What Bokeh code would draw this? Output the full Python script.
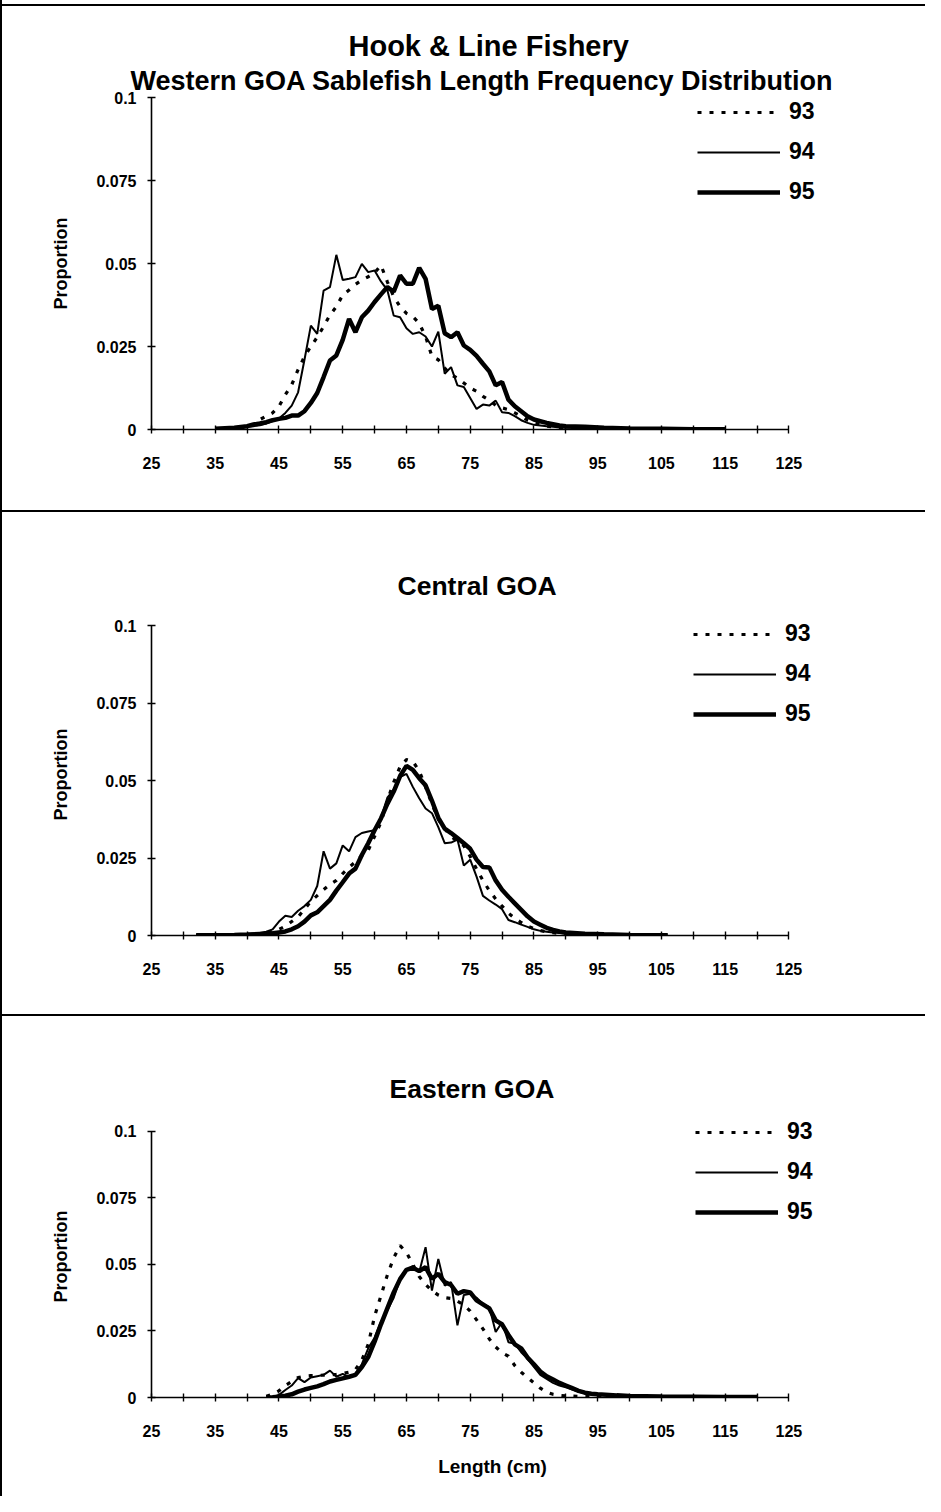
from bokeh.plotting import figure
from bokeh.models import FixedTicker, Legend, LegendItem, Title, Div, Range1d
from bokeh.layouts import column, row
from bokeh.embed import file_html
from bokeh.resources import INLINE

# ---------------- data ----------------
main_title = "Hook & Line Fishery"
panel_titles = ["Western GOA Sablefish Length Frequency Distribution", "Central GOA", "Eastern GOA"]
years = ["93", "94", "95"]
x_label = "Length (cm)"
y_label = "Proportion"
x_ticks = [25, 35, 45, 55, 65, 75, 85, 95, 105, 115, 125]
x_minor_ticks = [30, 40, 50, 60, 70, 80, 90, 100, 110, 120]
y_ticks = [0, 0.025, 0.05, 0.075, 0.1]
y_tick_labels = ["0", "0.025", "0.05", "0.075", "0.1"]

west_len = [35, 38, 40, 41, 42, 43, 44, 45, 46, 47, 48, 49, 50, 51, 52, 53, 54, 55, 56, 57,
            58, 59, 60, 61, 62, 63, 64, 65, 66, 67, 68, 69, 70, 71, 72, 73, 74, 75, 76, 77,
            78, 79, 80, 81, 82, 83, 84, 85, 86, 87, 88, 89, 90, 93, 96, 100, 105, 110, 115]
west_93 = [0.0, 0.0003,
           0.0008, 0.0015, 0.003, 0.004, 0.005, 0.007, 0.0105, 0.0135, 0.018, 0.022,
           0.025, 0.0278, 0.031, 0.0345, 0.037, 0.0405, 0.042, 0.0437, 0.045, 0.046,
           0.0472, 0.0495, 0.0445, 0.040, 0.037, 0.035, 0.034, 0.032, 0.028, 0.022,
           0.021, 0.0185, 0.0165, 0.0155, 0.014, 0.0125, 0.0115, 0.01, 0.0088, 0.0073,
           0.0065, 0.006, 0.005, 0.004, 0.0028, 0.002, 0.0015, 0.001, 0.0008, 0.0006,
           0.0005,
           0.0003, 0.0002, 0.0001, 0.0, 0.0, 0.0]
west_94 = [0.0, 0.0003,
           0.0008, 0.001, 0.0013, 0.0018, 0.0025, 0.0033, 0.005, 0.0072, 0.0112, 0.021,
           0.0313, 0.0288, 0.0418, 0.0429, 0.0526, 0.045, 0.0454, 0.0459, 0.0499, 0.0474,
           0.0479, 0.0446, 0.042, 0.0343, 0.0338, 0.0305, 0.0288, 0.0293, 0.028, 0.025,
           0.0295, 0.0168, 0.0188, 0.0133, 0.0128, 0.0095, 0.0062, 0.0075, 0.0072, 0.0087,
           0.0052, 0.005, 0.004, 0.0028, 0.002, 0.0014, 0.0012, 0.001, 0.0008, 0.0006,
           0.0005,
           0.0004, 0.0002, 0.0001, 0.0001, 0.0, 0.0]
west_95 = [0.0002, 0.0005,
           0.001, 0.0015, 0.0018, 0.0022, 0.0028, 0.0032, 0.0035, 0.0042, 0.0042, 0.0055,
           0.008, 0.011, 0.0158, 0.0208, 0.0223, 0.027, 0.0333, 0.0293, 0.0338, 0.0358,
           0.0384, 0.0407, 0.0429, 0.0415, 0.0464, 0.0439, 0.0439, 0.0487, 0.0454, 0.0363,
           0.0373, 0.029, 0.0278, 0.0293, 0.0253, 0.024, 0.0222, 0.0198, 0.0175, 0.0133,
           0.0143, 0.009, 0.007, 0.0055, 0.004, 0.003, 0.0025, 0.002, 0.0016, 0.0012,
           0.001,
           0.0008, 0.0005, 0.0003, 0.0002, 0.0001, 0.0001]

central_len = [32, 35, 38, 40, 42, 43, 44, 45, 46, 47, 48, 49, 50, 51, 52, 53, 54, 55, 56, 57,
               58, 59, 60, 61, 62, 63, 64, 65, 66, 67, 68, 69, 70, 71, 72, 73, 74, 75, 76, 77,
               78, 79, 80, 81, 82, 83, 84, 85, 86, 87, 88, 89, 90, 93, 96, 100, 103, 106]
central_93 = [0.0, 0.0001, 0.0002, 0.0003,
              0.0005, 0.0008, 0.0012, 0.002, 0.003, 0.0045, 0.006, 0.0085,
              0.011, 0.0129, 0.0148, 0.0165, 0.0178, 0.02, 0.022, 0.0238, 0.0258, 0.0275,
              0.032, 0.0366, 0.0435, 0.0495, 0.0545, 0.0568, 0.0562, 0.0532, 0.048, 0.0425,
              0.0375, 0.0345, 0.032, 0.0305, 0.029, 0.0255, 0.0215, 0.0178, 0.0145, 0.0118,
              0.0095, 0.0072, 0.0055, 0.0042, 0.003, 0.0022, 0.0016, 0.0012, 0.0009, 0.0007,
              0.0005,
              0.0003, 0.0002, 0.0001, 0.0, 0.0]
central_94 = [0.0, 0.0001, 0.0002, 0.0004,
              0.0008, 0.0012, 0.002, 0.0045, 0.0064, 0.006, 0.008, 0.0095,
              0.0115, 0.016, 0.0272, 0.0216, 0.0233, 0.0291, 0.0272, 0.0318, 0.0331, 0.0336,
              0.034, 0.038, 0.0445, 0.047, 0.0512, 0.0522, 0.048, 0.0443, 0.041, 0.0395,
              0.035, 0.0298, 0.03, 0.031, 0.0226, 0.0245, 0.019, 0.0128, 0.0113, 0.01,
              0.0085, 0.005, 0.0043, 0.0035, 0.0028, 0.002, 0.0015, 0.0012, 0.001, 0.0008,
              0.0006,
              0.0004, 0.0002, 0.0001, 0.0001, 0.0]
central_95 = [0.0001, 0.0001, 0.0002, 0.0003,
              0.0005, 0.0006, 0.0007, 0.001, 0.0013, 0.002, 0.003, 0.0045,
              0.0065, 0.0075, 0.0095, 0.0115, 0.0145, 0.0172, 0.02, 0.0216, 0.026, 0.0298,
              0.034, 0.0378, 0.0425, 0.0465, 0.0515, 0.0548, 0.0535, 0.0508, 0.0485, 0.0435,
              0.038, 0.0345, 0.0331, 0.0315, 0.0298, 0.028, 0.0245, 0.0221, 0.022, 0.0178,
              0.0148, 0.0125, 0.0104, 0.0083, 0.0062, 0.0045, 0.0035, 0.0025, 0.0018, 0.0013,
              0.001,
              0.0006, 0.0004, 0.0002, 0.0001, 0.0001]

east_len = [43, 44, 45, 46, 47, 48, 49, 50, 51, 52, 53, 54, 55, 56, 57, 58, 59, 60, 61, 62,
            63, 64, 65, 66, 67, 68, 69, 70, 71, 72, 73, 74, 75, 76, 77, 78, 79, 80, 81, 82,
            83, 84, 85, 86, 87, 88, 89, 90, 91, 92, 93, 94, 95, 98, 100, 105, 110, 115, 120]
east_93 = [0.0005, 0.0012, 0.0025, 0.0045, 0.006, 0.0075, 0.008,
           0.0082, 0.0083, 0.0084, 0.0085, 0.0087, 0.009, 0.0095, 0.0105, 0.014, 0.02,
           0.0305, 0.0383, 0.046, 0.0525, 0.0571, 0.0545, 0.05, 0.0455, 0.0425, 0.0402,
           0.0385, 0.0375, 0.0372, 0.0362, 0.0348, 0.0325, 0.0292, 0.0258, 0.022, 0.019,
           0.0168, 0.0155, 0.012, 0.0095, 0.0075, 0.0055, 0.0035, 0.002, 0.0012, 0.0008,
           0.0006, 0.0005, 0.0004, 0.0004, 0.0003, 0.0003,
           0.0002, 0.0002, 0.0001, 0.0001, 0.0, 0.0]
east_94 = [0.0, 0.0002, 0.001, 0.0028, 0.0045, 0.0073, 0.0058,
           0.0075, 0.008, 0.0085, 0.0101, 0.0078, 0.0089, 0.0076, 0.0089, 0.0125, 0.0185,
           0.0225, 0.0285, 0.0328, 0.0375, 0.0445, 0.048, 0.0494, 0.0471, 0.0565, 0.0402,
           0.0521, 0.0421, 0.0434, 0.0271, 0.0385, 0.039, 0.0375, 0.0352, 0.034, 0.0246,
           0.0283, 0.0208, 0.0202, 0.017, 0.0145, 0.0115, 0.0085, 0.007, 0.0055, 0.0045,
           0.0038, 0.003, 0.0022, 0.0015, 0.0012, 0.001,
           0.0006, 0.0005, 0.0003, 0.0002, 0.0001, 0.0001]
east_95 = [0.0, 0.0001, 0.0003, 0.0007, 0.0012, 0.0022, 0.003,
           0.0036, 0.0042, 0.005, 0.006, 0.0066, 0.0072, 0.0078, 0.0085, 0.0114, 0.0152,
           0.021, 0.0275, 0.0335, 0.0395, 0.0445, 0.048, 0.0488, 0.0475, 0.049, 0.0446,
           0.0465, 0.0434, 0.0423, 0.039, 0.04, 0.0395, 0.0365, 0.035, 0.0335, 0.029,
           0.0275, 0.0235, 0.02, 0.0185, 0.015, 0.0125, 0.0098, 0.008, 0.0068, 0.0055,
           0.0045, 0.0035, 0.0025, 0.0018, 0.0014, 0.0012,
           0.0008, 0.0006, 0.0004, 0.0003, 0.0002, 0.0002]

FONT = "Liberation Sans"
FIG_W = 923


def make_panel(lengths, s93, s94, s95, title, height, left, right, top, bottom, y_end,
               legend_xy, title_size, title_standoff, title_offset, show_xlabel=False):
    p = figure(width=FIG_W, height=height, output_backend="svg", toolbar_location=None,
               x_range=Range1d(25, 132), y_range=Range1d(0, y_end),
               min_border_left=left, min_border_right=right,
               min_border_top=top, min_border_bottom=bottom)
    p.outline_line_color = None
    p.xgrid.visible = False
    p.ygrid.visible = False
    p.background_fill_color = "white"
    p.border_fill_color = "white"

    p.title.text = title
    p.title.align = "left"
    p.title.offset = title_offset
    p.title.text_font = FONT
    p.title.text_font_size = title_size
    p.title.text_font_style = "bold"
    p.title.text_color = "black"
    p.title.standoff = title_standoff

    xa = p.xaxis[0]
    xa.ticker = FixedTicker(ticks=x_ticks, minor_ticks=x_minor_ticks)
    xa.bounds = (25, 125)
    xa.axis_line_width = 1.6
    xa.axis_line_color = "black"
    xa.major_tick_line_width = 1.4
    xa.minor_tick_line_width = 1.4
    xa.major_tick_in = 4
    xa.major_tick_out = 4
    xa.minor_tick_in = 4
    xa.minor_tick_out = 4
    xa.major_label_text_font = FONT
    xa.major_label_text_font_size = "16px"
    xa.major_label_text_font_style = "bold"
    xa.major_label_text_color = "black"
    xa.major_label_standoff = 23
    if show_xlabel:
        xa.axis_label = x_label
        xa.axis_label_text_font = FONT
        xa.axis_label_text_font_size = "19px"
        xa.axis_label_text_font_style = "bold"
        xa.axis_label_text_color = "black"
        xa.axis_label_standoff = 16

    ya = p.yaxis[0]
    ya.ticker = FixedTicker(ticks=y_ticks)
    ya.bounds = (0, 0.1)
    ya.major_label_overrides = dict(zip(y_ticks, y_tick_labels))
    ya.axis_line_width = 1.6
    ya.axis_line_color = "black"
    ya.major_tick_line_width = 1.4
    ya.major_tick_in = 4
    ya.major_tick_out = 4
    ya.minor_tick_line_color = None
    ya.major_label_text_font = FONT
    ya.major_label_text_font_size = "16px"
    ya.major_label_text_font_style = "bold"
    ya.major_label_text_color = "black"
    ya.major_label_standoff = 11
    ya.axis_label = y_label
    ya.axis_label_text_font = FONT
    ya.axis_label_text_font_size = "18px"
    ya.axis_label_text_font_style = "bold"
    ya.axis_label_text_color = "black"
    ya.axis_label_standoff = 22

    r93 = p.line(lengths, s93, line_color="black", line_width=3.2, line_dash="4 8")
    r94 = p.line(lengths, s94, line_color="black", line_width=2)
    r95 = p.line(lengths, s95, line_color="black", line_width=4.5)

    legend = Legend(items=[LegendItem(label=years[0], renderers=[r93]),
                           LegendItem(label=years[1], renderers=[r94]),
                           LegendItem(label=years[2], renderers=[r95])],
                    location=legend_xy, orientation="vertical",
                    glyph_width=83, glyph_height=20, label_height=20, label_width=20,
                    spacing=13, padding=0, margin=0, label_standoff=9,
                    border_line_color=None, background_fill_alpha=0,
                    label_text_font=FONT, label_text_font_size="23px",
                    label_text_font_style="bold", label_text_color="black")
    p.add_layout(legend)
    return p


# panel 1: p.title holds the main title, the distribution subtitle sits closest to the frame
p1 = make_panel(west_len, west_93, west_94, west_95, main_title, 504, 149, 90, 91, 81, 0.1,
                (546, 224), "29px", 0, 197)
p1.add_layout(Title(text=panel_titles[0], align="left", offset=-21, text_font=FONT,
                    text_font_size="27px", text_font_style="bold", text_color="black",
                    standoff=4), "above")
p2 = make_panel(central_len, central_93, central_94, central_95, panel_titles[1], 502, 146, 90,
                101, 79, 0.104, (542, 208), "26.5px", 25, 246)
p3 = make_panel(east_len, east_93, east_94, east_95, panel_titles[2], 480, 144, 92, 99, 99,
                0.106, (544, 172), "26.5px", 24, 238, show_xlabel=True)


def rule(w, h, color="black"):
    return Div(text="", width=w, height=h, margin=0,
               styles={"background-color": color, "padding": "0", "margin": "0"})


layout = row(rule(2, 1496),
             column(rule(FIG_W, 4, "white"), rule(FIG_W, 2), p1, rule(FIG_W, 2), p2,
                    rule(FIG_W, 2), p3, spacing=0),
             spacing=0)

open("out.html", "w").write(file_html(layout, INLINE))
